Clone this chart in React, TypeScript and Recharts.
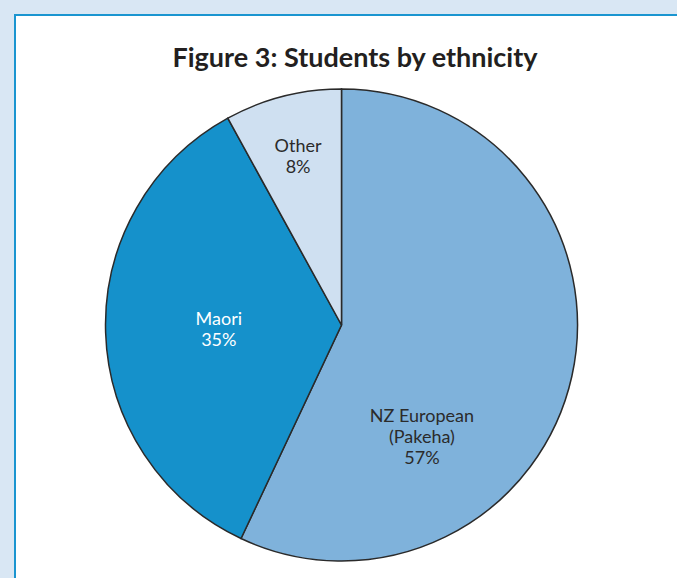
import { PieChart, Pie, Cell } from 'recharts';

const categories = ['NZ European (Pakeha)', 'Maori', 'Other'];
const shares = [57, 35, 8];
const sliceColors = ['#7fb2db', '#1591cb', '#cfe0f1'];
const labelColors = ['#2b2b2b', '#ffffff', '#2b2b2b'];
const labelLines = [['NZ European', '(Pakeha)', '57%'], ['Maori', '35%'], ['Other', '8%']];

const chartData = categories.map((name, i) => ({ name, value: shares[i] }));

const RADIAN = Math.PI / 180;

// where each label sits: fraction of radius + optional angle override
const labelSpots: Record<string, { r: number; angle?: number }> = {
  'NZ European (Pakeha)': { r: 0.58, angle: -54 },
  Maori: { r: 0.52 },
  Other: { r: 0.74 },
};

const renderLabel = (props: any) => {
  const { cx, cy, midAngle, outerRadius, index, name } = props;
  const spot = labelSpots[name] || { r: 0.6 };
  const ang = spot.angle !== undefined ? spot.angle : midAngle;
  const rr = outerRadius * spot.r;
  const x = cx + rr * Math.cos(-ang * RADIAN);
  const y = cy + rr * Math.sin(-ang * RADIAN);
  const lines = labelLines[index];
  const lh = 21;
  const top = y - ((lines.length - 1) * lh) / 2;
  return (
    <text
      x={x}
      y={top}
      textAnchor="middle"
      dominantBaseline="central"
      fill={labelColors[index]}
      fontFamily="Lato, sans-serif"
      fontSize={18}
    >
      {lines.map((l, k) => (
        <tspan key={k} x={x} y={top + k * lh}>
          {l}
        </tspan>
      ))}
    </text>
  );
};

const App = () => {
  return (
    <div
      style={{
        position: 'absolute',
        left: 0,
        top: 0,
        width: 677,
        height: 578,
        background: '#d9e7f4',
        overflow: 'hidden',
      }}
    >
      <div
        style={{
          position: 'absolute',
          left: 14,
          top: 14,
          width: 700,
          height: 600,
          background: '#ffffff',
          border: '2px solid #1a95d0',
        }}
      />
      <div
        style={{
          position: 'absolute',
          left: 0,
          top: 40,
          width: 710,
          textAlign: 'center',
          fontFamily: 'Lato, sans-serif',
          fontWeight: 700,
          fontSize: 27,
          color: '#231f20',
        }}
      >
        Figure 3: Students by ethnicity
      </div>
      <div style={{ position: 'absolute', left: 0, top: 0 }}>
        <PieChart width={677} height={578} margin={{ top: 0, right: 0, bottom: 0, left: 0 }}>
          <Pie
            data={chartData}
            dataKey="value"
            nameKey="name"
            cx={341.5}
            cy={325}
            outerRadius={236}
            startAngle={90}
            endAngle={-270}
            stroke="#2a2a2a"
            strokeWidth={1.5}
            label={renderLabel}
            labelLine={false}
            isAnimationActive={false}
          >
            {chartData.map((d, i) => (
              <Cell key={d.name} fill={sliceColors[i]} />
            ))}
          </Pie>
        </PieChart>
      </div>
    </div>
  );
};

export default App;
